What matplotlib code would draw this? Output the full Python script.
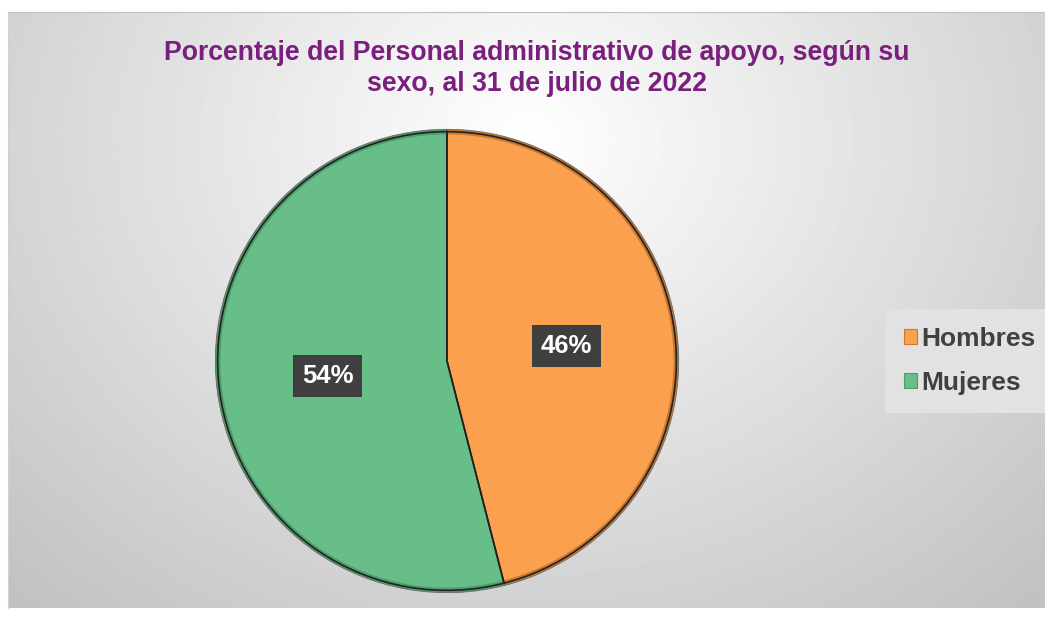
import numpy as np
import matplotlib.pyplot as plt
from matplotlib.patches import Patch

plt.rcParams['font.family'] = ['Liberation Sans', 'DejaVu Sans']

# data
categorias = ['Hombres', 'Mujeres']
porcentajes = [46, 54]
colores = ['#FBA04E', '#67BE88']
colores_borde = ['#C9782F', '#4E9E6B']
titulo = 'Porcentaje del Personal administrativo de apoyo, según su\nsexo, al 31 de julio de 2022'

W, H = 1045, 618
fig = plt.figure(figsize=(W / 100, H / 100), dpi=100)
fig.patch.set_facecolor('white')

# fondo con degradado radial
bg = fig.add_axes([8 / W, 10 / H, (W - 8) / W, (H - 22) / H])
yy, xx = np.mgrid[0:600, 0:1040]
d = np.sqrt(((xx - 520) / 620.0) ** 2 + ((yy - 130) / 520.0) ** 2)
v = 1.0 - 0.2 * np.clip(d, 0, 1.2)
bg.imshow(v, cmap='gray', vmin=0, vmax=1, aspect='auto', interpolation='bilinear')
bg.set_xticks([])
bg.set_yticks([])
for s in bg.spines.values():
    s.set_visible(False)
bg.spines['top'].set_visible(True)
bg.spines['top'].set_color('#BFBFBF')
bg.spines['left'].set_visible(True)
bg.spines['left'].set_color('#D0D0D0')

# pastel
cx, cy, r = 447, 361, 234
ax = fig.add_axes([(cx - r) / W, (H - cy - r) / H, 2 * r / W, 2 * r / H])
ax.set_facecolor('none')
ax.pie(porcentajes, colors=colores_borde, startangle=90, counterclock=False,
       wedgeprops=dict(edgecolor='#6A6A6A', linewidth=0.6))
ax.pie(porcentajes, colors=colores, startangle=90, counterclock=False, radius=0.978,
       wedgeprops=dict(edgecolor='none'))
wedges, textos, autot = ax.pie(porcentajes, startangle=90, counterclock=False,
                               autopct='%d%%', pctdistance=0.52, labels=None,
                               wedgeprops=dict(edgecolor='#222222', linewidth=1.2, fill=False))
for w in wedges:
    w.set_radius(0.99)
for t in autot:
    t.set_color('white')
    t.set_fontsize(18.5)
    t.set_fontweight('bold')
    t.set_bbox(dict(boxstyle='square,pad=0.35', facecolor='#3F3F3F', edgecolor='none'))
ax.set_xlim(-1.01, 1.01)
ax.set_ylim(-1.01, 1.01)
ax.set_aspect('equal')

fig.text(0.514, 0.889, titulo, ha='center', va='center', color='#7B1F7E',
         fontsize=19.2, fontweight='bold', linespacing=1.25)

handles = [Patch(facecolor=c, edgecolor=e, linewidth=0.8) for c, e in zip(colores, colores_borde)]
leg = fig.legend(handles, categorias, loc='center left', bbox_to_anchor=(0.842, 0.416),
                 frameon=True, fontsize=19, handlelength=0.5, handleheight=0.5,
                 handletextpad=0.15, labelspacing=0.75, borderpad=0.4)
leg.get_frame().set_facecolor('#E2E2E2')
leg.get_frame().set_edgecolor('none')
leg.get_frame().set_alpha(1)
leg.get_frame().set_boxstyle('square')
for t in leg.get_texts():
    t.set_color('#404040')
    t.set_fontweight('bold')

fig.savefig('out.png', dpi=100)
